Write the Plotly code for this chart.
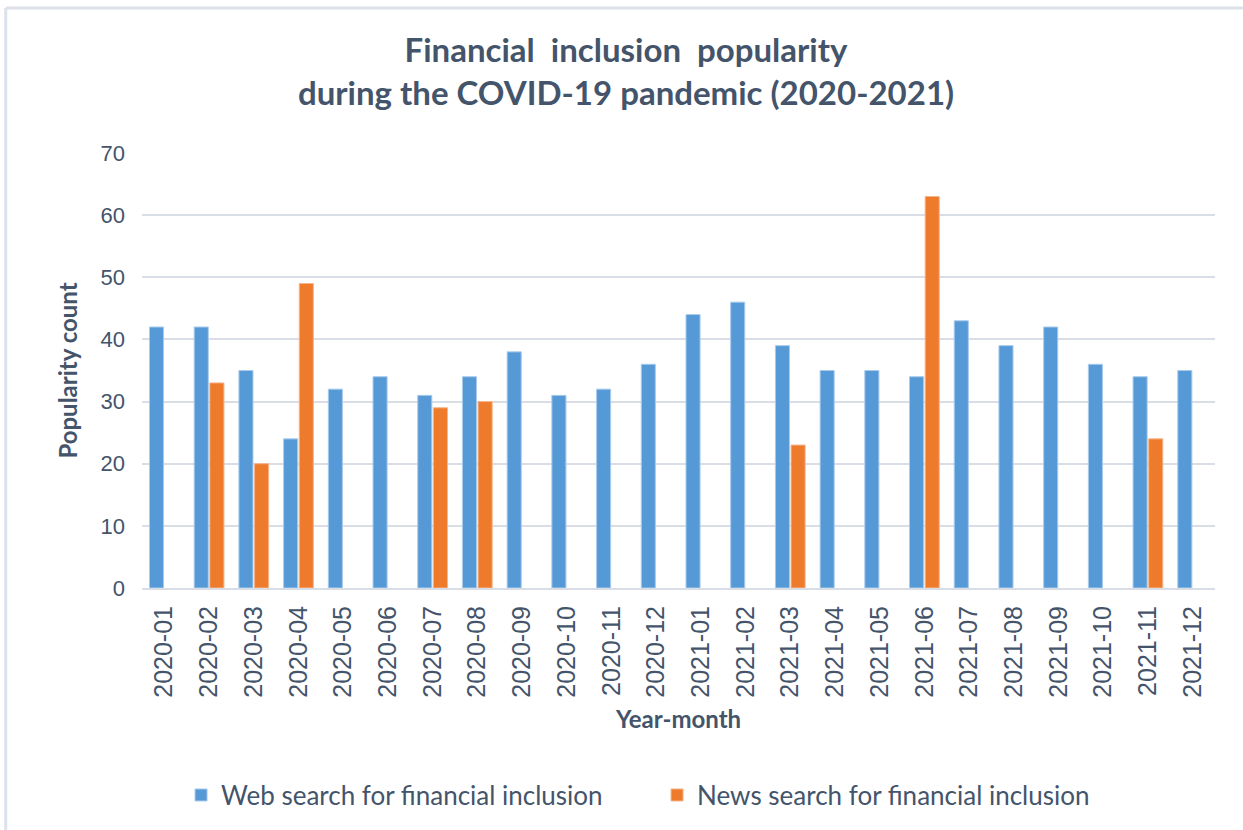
import plotly.graph_objects as go

# Monthly popularity counts, Jan 2020 - Dec 2021
months = [
    "2020-01", "2020-02", "2020-03", "2020-04", "2020-05", "2020-06",
    "2020-07", "2020-08", "2020-09", "2020-10", "2020-11", "2020-12",
    "2021-01", "2021-02", "2021-03", "2021-04", "2021-05", "2021-06",
    "2021-07", "2021-08", "2021-09", "2021-10", "2021-11", "2021-12",
]
web_search = [42, 42, 35, 24, 32, 34, 31, 34, 38, 31, 32, 36,
              44, 46, 39, 35, 35, 34, 43, 39, 42, 36, 34, 35]
news_search = [None, 33, 20, 49, None, None, 29, 30, None, None, None, None,
               None, None, 23, None, None, 63, None, None, None, None, 24, None]
y_ticks = [0, 10, 20, 30, 40, 50, 60, 70]

TEXT = "#44546A"
GRID = "#D9DDE6"
FONT = "Liberation Sans, Arial, sans-serif"
TITLE_FONT = "Lato, Carlito, Calibri, sans-serif"

fig = go.Figure()
fig.add_trace(go.Bar(
    x=months, y=web_search, name="Web search for financial inclusion",
    marker=dict(color="#5599D6", line=dict(color="#A9CBEC", width=1)),
))
fig.add_trace(go.Bar(
    x=months, y=news_search, name="News search for financial inclusion",
    marker=dict(color="#EE7A2C", line=dict(color="#F6B48A", width=1)),
))

# light frame around the chart
fig.add_shape(type="line", xref="paper", yref="paper",
              x0=-0.127, x1=1.1, y0=1.3333, y1=1.3333,
              line=dict(color="#DDE1EA", width=3))
fig.add_shape(type="line", xref="paper", yref="paper",
              x0=-0.127, x1=-0.127, y0=1.3333, y1=-0.6,
              line=dict(color="#DDE1EA", width=3))

fig.update_layout(
    width=1243, height=830,
    margin=dict(l=142, r=28, t=153, b=242, autoexpand=False),
    paper_bgcolor="white", plot_bgcolor="white",
    barmode="group", bargap=0.3, bargroupgap=0.1,
    title=dict(
        text="Financial  inclusion  popularity<br>during the COVID-19 pandemic (2020-2021)",
        x=626 / 1243, xanchor="center", xref="container",
        y=1 - 62 / 830, yanchor="middle",
        font=dict(family=TITLE_FONT, size=33, color=TEXT, weight="bold"),
    ),
    xaxis=dict(
        type="category", tickangle=-90, showgrid=False, automargin=False,
        tickfont=dict(family=FONT, size=25, color=TEXT),
        showline=True, linecolor=GRID, linewidth=2, ticks="",
        ticklabelstandoff=6,
        title=dict(text="<b>Year-month</b>", standoff=14,
                   font=dict(family=TITLE_FONT, size=24, color=TEXT)),
    ),
    yaxis=dict(
        range=[0, 70], tickvals=y_ticks, showgrid=True, automargin=False,
        gridcolor=GRID, gridwidth=2, zeroline=False,
        tickfont=dict(family=FONT, size=22, color=TEXT),
        ticklabelstandoff=16,
        title=dict(text="<b>Popularity count</b>", standoff=16,
                   font=dict(family=TITLE_FONT, size=24, color=TEXT)),
    ),
    legend=dict(
        orientation="h", x=0.48, xanchor="center", y=-0.422, yanchor="top",
        font=dict(family=TITLE_FONT, size=26, color=TEXT),
        entrywidth=431, entrywidthmode="pixels",
    ),
)

fig.write_html("out.html")
